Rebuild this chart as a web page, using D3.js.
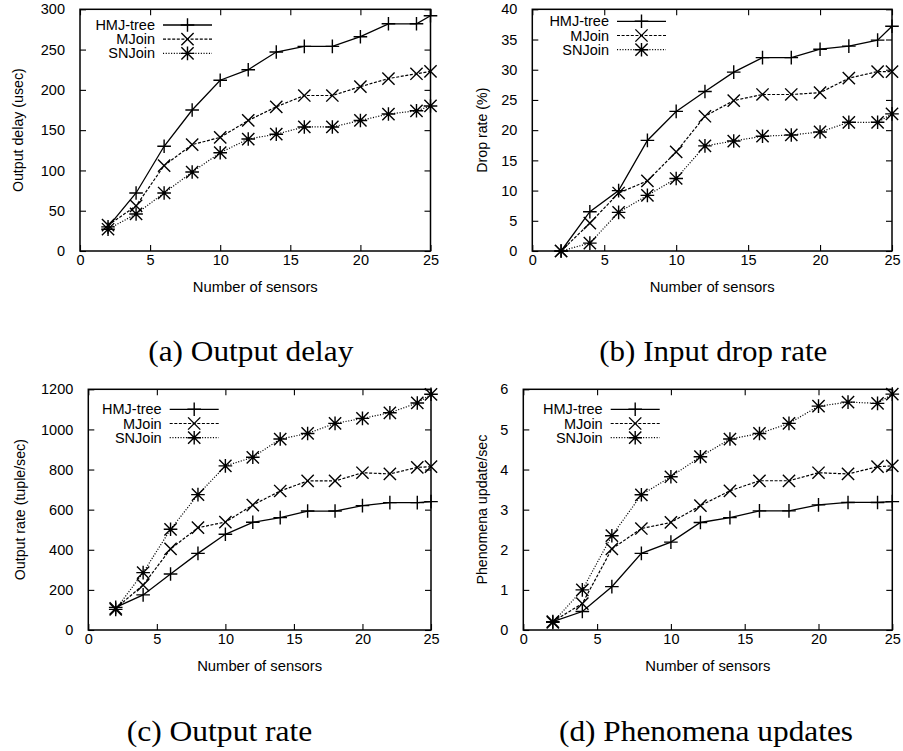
<!DOCTYPE html>
<html><head><meta charset="utf-8">
<script src="https://cdn.jsdelivr.net/npm/d3@7"></script>
<style>body{margin:0;background:#fff}svg{display:block}</style>
</head><body>
<svg id="chart" width="903" height="751"></svg>
<script>
// ---------- data ----------
const sensors = [2,4,6,8,10,12,14,16,18,20,22,24,25];
const seriesNames = ["HMJ-tree","MJoin","SNJoin"];
const xTicks = [0,5,10,15,20,25];

const delayHMJ   = [30,72,130,175,212,225,247,254,254,266,282,282,292];
const delayMJoin = [32,56,106,132,141,162,179,193,193,204,214,220,223];
const delaySNJoin= [27,46,72,98,122,139,145,154,154,162,170,174,180];
const delayTicks = [0,50,100,150,200,250,300];

const dropHMJ    = [0,6.5,10,18.3,23.1,26.4,29.6,32,32,33.4,33.9,34.9,37.2];
const dropMJoin  = [0,4.6,9.6,11.6,16.4,22.3,24.9,25.9,25.9,26.2,28.6,29.7,29.7];
const dropSNJoin = [0,1.3,6.4,9.2,12,17.4,18.2,19,19.2,19.7,21.3,21.3,22.7];
const dropTicks  = [0,5,10,15,20,25,30,35,40];

const rateHMJ    = [113,175,279,382,477,537,560,593,593,620,635,635,640];
const rateMJoin  = [108,224,404,510,538,623,693,743,743,784,778,811,814];
const rateSNJoin = [103,286,502,675,818,861,952,980,1030,1055,1083,1132,1175];
const rateTicks  = [0,200,400,600,800,1000,1200];

const phenHMJ    = [0.21,0.46,1.08,1.91,2.19,2.68,2.8,2.97,2.97,3.12,3.18,3.18,3.2];
const phenMJoin  = [0.21,0.66,2.02,2.53,2.68,3.1,3.47,3.72,3.72,3.92,3.89,4.07,4.09];
const phenSNJoin = [0.19,1.0,2.35,3.37,3.82,4.32,4.76,4.9,5.15,5.58,5.68,5.65,5.88];
const phenTicks  = [0,1,2,3,4,5,6];

const yLabels  = ["Output delay (usec)","Drop rate (%)","Output rate (tuple/sec)","Phenomena update/sec"];
const xLabel   = "Number of sensors";
const captions = ["(a) Output delay","(b) Input drop rate","(c) Output rate","(d) Phenomena updates"];

// ---------- layout (positions/styles only) ----------
const layout = [
  {x0:80,   x1:430.5, top:9.3,   bottom:251, ylabX:18,    legTop:25,   legTextEnd:155,   capX:148.3, capY:361, capW:205},
  {x0:532.3,x1:892,   top:9.3,   bottom:251, ylabX:481.7, legTop:21.3, legTextEnd:609,   capX:599.3, capY:361, capW:228},
  {x0:88.3, x1:431,   top:389.3, bottom:630, ylabX:20,    legTop:409.3,legTextEnd:161.7, capX:126.7, capY:741, capW:185.6},
  {x0:523.3,x1:892.3, top:389.3, bottom:630, ylabX:481.7, legTop:409.3,legTextEnd:602.7, capX:559,   capY:741, capW:294}
];
const panelSeries = [
  [delayHMJ,delayMJoin,delaySNJoin],
  [dropHMJ,dropMJoin,dropSNJoin],
  [rateHMJ,rateMJoin,rateSNJoin],
  [phenHMJ,phenMJoin,phenSNJoin]
];
const panelTicks = [delayTicks,dropTicks,rateTicks,phenTicks];
const dashes = [null,"3,1.6","1.1,1.6"];
const markers = ["plus","cross","star"];

const svg = d3.select("#chart");
const sans = "'Liberation Sans', Arial, Helvetica, sans-serif";
const serif = "'Liberation Serif', 'Times New Roman', serif";
const MS = 6.8; // marker half-size

function drawMarker(g, type, cx, cy){
  const p = d3.path();
  if(type==="plus"||type==="star"){
    p.moveTo(cx-MS,cy); p.lineTo(cx+MS,cy);
    p.moveTo(cx,cy-MS); p.lineTo(cx,cy+MS);
  }
  if(type==="cross"||type==="star"){
    const s = MS*0.9;
    p.moveTo(cx-s,cy-s); p.lineTo(cx+s,cy+s);
    p.moveTo(cx-s,cy+s); p.lineTo(cx+s,cy-s);
  }
  g.append("path").attr("d",p.toString()).attr("stroke","#000").attr("stroke-width",1.4).attr("fill","none");
}

layout.forEach((L,i)=>{
  const ticks = panelTicks[i];
  const x = d3.scaleLinear().domain([0,25]).range([L.x0,L.x1]);
  const y = d3.scaleLinear().domain([0,d3.max(ticks)]).range([L.bottom,L.top]);
  const g = svg.append("g");
  const tl = 6;

  // axes with inward ticks
  const bottomAx = g.append("g").attr("transform",`translate(0,${L.bottom})`)
    .call(d3.axisBottom(x).tickValues(xTicks).tickSize(-tl).tickPadding(tl+8).tickFormat(d3.format("d")));
  const topAx = g.append("g").attr("transform",`translate(0,${L.top})`)
    .call(d3.axisTop(x).tickValues(xTicks).tickSize(-tl).tickFormat(""));
  const leftAx = g.append("g").attr("transform",`translate(${L.x0},0)`)
    .call(d3.axisLeft(y).tickValues(ticks).tickSize(-tl).tickPadding(tl+9).tickFormat(d3.format("d")));
  const rightAx = g.append("g").attr("transform",`translate(${L.x1},0)`)
    .call(d3.axisRight(y).tickValues(ticks).tickSize(-tl).tickFormat(""));
  [bottomAx,topAx,leftAx,rightAx].forEach(a=>{
    a.select(".domain").remove();
    a.selectAll(".tick line").attr("stroke","#000").attr("stroke-width",1.1);
    a.selectAll("text").attr("font-family",sans).attr("font-size",14.5).attr("fill","#000");
  });
  bottomAx.selectAll("text").attr("dy","0");

  // frame
  g.append("rect").attr("x",L.x0).attr("y",L.top).attr("width",L.x1-L.x0).attr("height",L.bottom-L.top)
    .attr("fill","none").attr("stroke","#000").attr("stroke-width",1.5);

  // axis labels
  g.append("text").attr("x",(L.x0+L.x1)/2).attr("y",L.bottom+41).attr("text-anchor","middle")
    .attr("font-family",sans).attr("font-size",14.8).text(xLabel);
  g.append("text").attr("transform",`translate(${L.ylabX+5},${(L.top+L.bottom)/2}) rotate(-90)`)
    .attr("text-anchor","middle").attr("font-family",sans).attr("font-size",14.2).text(yLabels[i]);

  // series
  const line = d3.line().x((d,k)=>x(sensors[k])).y(d=>y(d));
  panelSeries[i].forEach((vals,s)=>{
    g.append("path").datum(vals).attr("d",line).attr("fill","none").attr("stroke","#000")
      .attr("stroke-width",s===0?1.3:1.2).attr("stroke-dasharray",dashes[s]);
  });
  panelSeries[i].forEach((vals,s)=>{
    vals.forEach((v,k)=>drawMarker(g,markers[s],x(sensors[k]),y(v)));
  });

  // legend
  seriesNames.forEach((name,s)=>{
    const cy = L.legTop + s*14.2;
    g.append("text").attr("x",L.legTextEnd).attr("y",cy+5).attr("text-anchor","end")
      .attr("font-family",sans).attr("font-size",14.5).text(name);
    const lx0 = L.legTextEnd+8, lx1 = L.legTextEnd+57;
    g.append("line").attr("x1",lx0).attr("x2",lx1).attr("y1",cy).attr("y2",cy)
      .attr("stroke","#000").attr("stroke-width",s===0?1.3:1.2).attr("stroke-dasharray",dashes[s]);
    drawMarker(g,markers[s],(lx0+lx1)/2,cy);
  });

  // caption
  svg.append("text").attr("x",L.capX).attr("y",L.capY).attr("font-family",serif).attr("font-size",29)
    .attr("textLength",L.capW).attr("lengthAdjust","spacingAndGlyphs").text(captions[i]);
});
</script>
</body></html>
